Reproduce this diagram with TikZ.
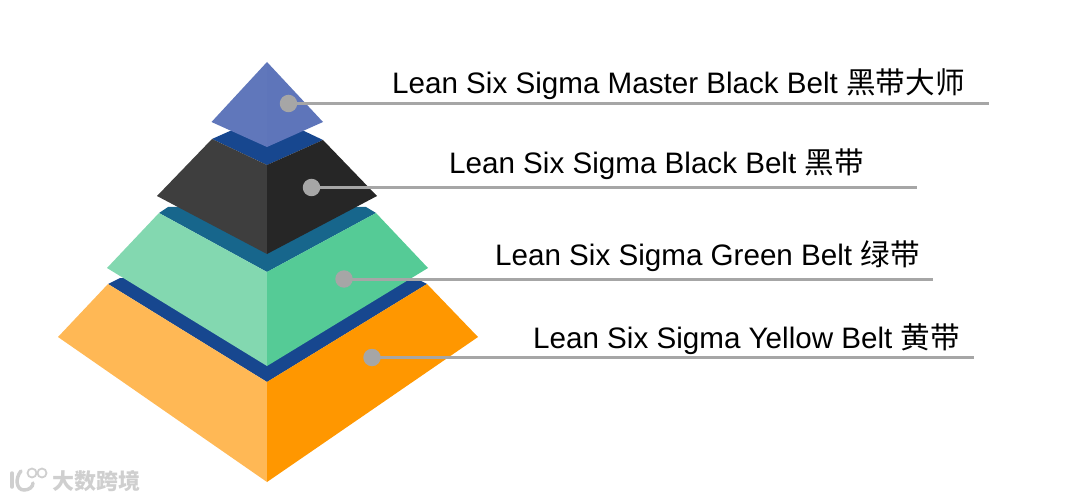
\documentclass[tikz,border=0pt]{standalone}
\usepackage{fontspec}
\setmainfont{Liberation Sans}
\newfontfamily\cjk{Noto Sans CJK SC}
\definecolor{bandblue}{HTML}{17478F}
\definecolor{bandteal}{HTML}{17668C}
\definecolor{topL}{HTML}{6077BB}
\definecolor{topR}{HTML}{5E75BA}
\definecolor{blackL}{HTML}{3E3E3E}
\definecolor{blackR}{HTML}{262626}
\definecolor{greenL}{HTML}{83D8B0}
\definecolor{greenR}{HTML}{55CB96}
\definecolor{orangeL}{HTML}{FFB855}
\definecolor{orangeR}{HTML}{FF9700}
\definecolor{leader}{HTML}{A6A6A6}
\definecolor{wm}{HTML}{CFCFCF}
\tikzset{
  leaderdot/.style={circle,fill=leader,minimum size=17.5pt,inner sep=0pt},
  leaderline/.style={draw=leader,line width=3pt},
  lbl/.style={font=\fontsize{29.6pt}{32pt}\selectfont,text=black,inner sep=0pt,anchor=base west},
  wmtext/.style={font=\cjk\bfseries\fontsize{22pt}{24pt}\selectfont,text=wm,inner sep=0pt},
}
\begin{document}
\begin{tikzpicture}[x=1pt,y=-1pt]
\useasboundingbox (0,0) rectangle (1080,500);
% bands behind the tiers
\fill[bandblue] (108,284) -- (120,278) -- (415,278) -- (427,284) -- (267,382) -- cycle;
\fill[bandteal] (159,213) -- (168,207) -- (366,207) -- (376,213) -- (267,272) -- cycle;
\fill[bandblue] (212,139) -- (230,131) -- (304,131) -- (323,140) -- (267,165) -- cycle;
% bottom tier
\fill[orangeL] (58,337) -- (108,284) -- (267,382) -- (267,482) -- cycle;
\fill[orangeR] (478,337) -- (427,284) -- (267,382) -- (267,482) -- cycle;
% green tier
\fill[greenL] (107,268) -- (159,213) -- (267,272) -- (267,366) -- cycle;
\fill[greenR] (428,268) -- (376,213) -- (267,272) -- (267,366) -- cycle;
% black tier
\fill[blackL] (157,196) -- (212,139) -- (267,165) -- (267,254) -- cycle;
\fill[blackR] (377,196) -- (323,140) -- (267,165) -- (267,254) -- cycle;
% top tier
\fill[topL] (211.5,122) -- (267,62) -- (267,147) -- cycle;
\fill[topR] (323,122) -- (267,62) -- (267,147) -- cycle;
% leaders
\node[leaderdot] (d1) at (288.5,103.5) {};
\node[leaderdot] (d2) at (311.5,187.5) {};
\node[leaderdot] (d3) at (344,279) {};
\node[leaderdot] (d4) at (372,357.5) {};
\coordinate (e1) at (989,103.5);
\coordinate (e2) at (917,187.5);
\coordinate (e3) at (933,279);
\coordinate (e4) at (974,357.5);
\draw[leaderline] (d1.center) -- (e1);
\draw[leaderline] (d2.center) -- (e2);
\draw[leaderline] (d3.center) -- (e3);
\draw[leaderline] (d4.center) -- (e4);
% labels
\node[lbl] (t1) at (392,94) {Lean Six Sigma Master Black Belt {\cjk 黑带大师}};
\node[lbl] (t2) at (449,174) {Lean Six Sigma Black Belt {\cjk 黑带}};
\node[lbl] (t3) at (495,265.5) {Lean Six Sigma Green Belt {\cjk 绿带}};
\node[lbl] (t4) at (533,348.5) {Lean Six Sigma Yellow Belt {\cjk 黄带}};
% watermark
\draw[wm,line width=3.5pt,line cap=round] (12,473) -- (12,487);
\draw[wm,line width=3.5pt,line cap=round] (21,471) .. controls (15,478) and (16,490) .. (24,490) .. controls (29,490) and (33,487) .. (33,483);
\draw[wm,line width=1.8pt] (32,473) circle (4.5pt);
\draw[wm,line width=1.8pt] (42,473) circle (4.5pt);
\node[wmtext,anchor=west] (w) at (52,481) {大数跨境};
\end{tikzpicture}
\end{document}
